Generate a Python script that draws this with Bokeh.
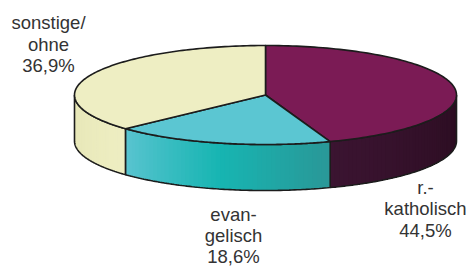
import numpy as np
from bokeh.plotting import figure
from bokeh.models import Range1d
from bokeh.core.properties import value
from bokeh.embed import file_html
from bokeh.resources import INLINE

# ---- data ----
categories = ["r.-katholisch", "evangelisch", "sonstige/ohne"]
shares = [44.5, 18.6, 36.9]
label_lines = [["r.-", "katholisch", "44,5%"],
               ["evan-", "gelisch", "18,6%"],
               ["sonstige/", "ohne", "36,9%"]]
top_colors = ["#7B1B55", "#5BC6D2", "#EEEEC3"]
# side gradient stops, ordered along increasing clockwise angle
side_stops = [["#2A0C20", "#3B1431"],
              ["#2A9797", "#17B5B2", "#5AC4D0"],
              ["#EEEEC2", "#E6E6B6"]]

# ---- geometry (pixel-like coordinates) ----
cx, cy, rx, ry, depth = 265.0, 94.5, 191.0, 49.5, 46.0
label_pos = [(425, [187, 208, 229.5]), (233, [214, 235, 256]), (48, [22, 43.5, 65])]

p = figure(width=471, height=266, x_range=Range1d(0, 471), y_range=Range1d(266, 0),
           output_backend="svg", toolbar_location=None, min_border=0)
p.axis.visible = False
p.grid.visible = False
p.outline_line_color = None
p.background_fill_color = "white"

def ept(th, dz=0.0):
    th = np.radians(th)
    return cx + rx * np.sin(th), cy - ry * np.cos(th) + dz

def hex2rgb(h):
    h = h.lstrip("#")
    return np.array([int(h[i:i + 2], 16) for i in (0, 2, 4)], dtype=float)

def interp(stops, t):
    cols = [hex2rgb(s) for s in stops]
    n = len(cols) - 1
    seg = min(int(t * n), n - 1)
    lt = t * n - seg
    c = cols[seg] * (1 - lt) + cols[seg + 1] * lt
    return "#%02x%02x%02x" % tuple(int(round(v)) for v in c)

total = sum(shares)
angles = np.cumsum([0] + [s / total * 360.0 for s in shares])
edge = "#1c1c1c"

# sides (front half only: 90..270 deg)
for i in range(len(shares)):
    a, b = max(angles[i], 90.0), min(angles[i + 1], 270.0)
    if b <= a:
        continue
    n = 48
    th = np.linspace(a, b, n + 1)
    xs, ys, cs = [], [], []
    for k in range(n):
        arc = np.linspace(th[k], b, 40)
        x1, y1 = ept(arc)
        x2, y2 = ept(arc[::-1], depth)
        xs.append(list(x1) + list(x2))
        ys.append(list(y1) + list(y2))
        cs.append(interp(side_stops[i], (k + 0.5) / n))
    p.patches(xs, ys, fill_color=cs, line_color=None)
    arc = np.linspace(a, b, 80)
    x1, y1 = ept(arc)
    x2, y2 = ept(arc[::-1], depth)
    p.patch(list(x1) + list(x2), list(y1) + list(y2), fill_color=None,
            line_color=edge, line_width=1.6)

# top faces
for i in range(len(shares)):
    arc = np.linspace(angles[i], angles[i + 1], 120)
    x1, y1 = ept(arc)
    p.patch([cx] + list(x1), [cy] + list(y1), fill_color=top_colors[i],
            line_color=edge, line_width=1.6, line_join="round")

# labels
for i, lines in enumerate(label_lines):
    lx, lys = label_pos[i]
    p.text(x=[lx] * len(lines), y=lys, text=lines, text_align="center",
           text_baseline="alphabetic", text_font=value("Liberation Sans"),
           text_font_size="18.5px", text_color="#333333")

open("out.html", "w").write(file_html(p, INLINE))
